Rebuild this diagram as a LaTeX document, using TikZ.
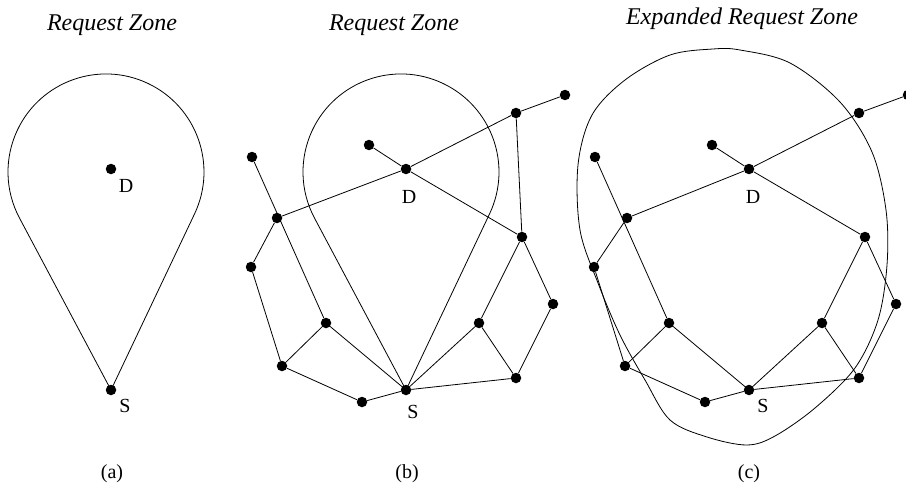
\documentclass[tikz,border=0pt]{standalone}
\usepackage{fontspec}
\setmainfont{Liberation Serif}
\usetikzlibrary{shapes,arrows,positioning}

\tikzset{
	dot/.style={shape=circle, fill=black, inner sep=0pt, minimum size=10.5pt},
	lbl/.style={inner sep=0pt, anchor=base, font=\fontsize{20}{24}\selectfont},
	ttl/.style={inner sep=0pt, anchor=base, font=\fontsize{24}{28}\selectfont\itshape},
	wire/.style={line width=0.8pt}
}

% one copy of the network: #1 = name prefix, #2 = x of node 2
\newcommand{\netcopy}[2]{
	\node[dot] (#1n1) at (252,157) {};
	\node[dot] (#1n2) at (#2,218) {};
	\node[dot] (#1n3) at (251,267) {};
	\node[dot] (#1n4) at (282,366) {};
	\node[dot] (#1n5) at (326,323) {};
	\node[dot] (#1n6) at (362,402) {};
	\node[dot] (#1S) at (406,390) {};
	\node[dot] (#1D) at (406,169) {};
	\node[dot] (#1n7) at (369,145) {};
	\node[dot] (#1n8) at (516,113) {};
	\node[dot] (#1n9) at (565,95) {};
	\node[dot] (#1n10) at (522,237) {};
	\node[dot] (#1n11) at (553,304) {};
	\node[dot] (#1n12) at (479,323) {};
	\node[dot] (#1n13) at (516,378) {};

	\path [-,wire] (#1n1) edge (#1n5);
	\path [-,wire] (#1n2) edge (#1n3);
	\path [-,wire] (#1n2) edge (#1D);
	\path [-,wire] (#1D) edge (#1n8);
	\path [-,wire] (#1n8) edge (#1n9);
	\path [-,wire] (#1n3) edge (#1n4);
	\path [-,wire] (#1n4) edge (#1n5);
	\path [-,wire] (#1n4) edge (#1n6);
	\path [-,wire] (#1n6) edge (#1S);
	\path [-,wire] (#1n5) edge (#1S);
	\path [-,wire] (#1S) edge (#1n12);
	\path [-,wire] (#1S) edge (#1n13);
	\path [-,wire] (#1n12) edge (#1n10);
	\path [-,wire] (#1n12) edge (#1n13);
	\path [-,wire] (#1n10) edge (#1n11);
	\path [-,wire] (#1n11) edge (#1n13);
	\path [-,wire] (#1n7) edge (#1D);
	\path [-,wire] (#1D) edge (#1n10);
}

\begin{document}
\begin{tikzpicture}[x=1pt, y=-1pt]
	\useasboundingbox (0,0) rectangle (906,487);

	% (a)
	\node[ttl] (ta) at (112,31) {Request Zone};
	\node[dot] (aD) at (111,169) {};
	\node[dot] (aS) at (111,390) {};
	\draw[wire] (aS.center) -- (194.5,214) arc[start angle=25.4, end angle=-208, radius=98] -- cycle;
	\node[lbl] (laD) at (126,192) {D};
	\node[lbl] (laS) at (125,412.5) {S};
	\node[lbl] (capa) at (112,478) {(a)};

	% (b)
	\node[ttl] (tb) at (394,31) {Request Zone};
	\netcopy{b}{277}
	\path [-,wire] (bn8) edge (bn10);
	\draw[wire] (bS.center) -- (489.5,214) arc[start angle=25.4, end angle=-208, radius=98] -- cycle;
	\node[lbl] (lbD) at (409,203) {D};
	\node[lbl] (lbS) at (413,418) {S};
	\node[lbl] (capb) at (407,478) {(b)};

	% (c)
	\node[ttl] (tc) at (742,25) {Expanded Request Zone};
	\begin{scope}[shift={(343,0)}]
		\netcopy{c}{284}
	\end{scope}
	\draw[wire] plot[smooth cycle, tension=0.55] coordinates {
		(740,50) (790,63) (840,102) (872,152) (886,210) (887,265) (878,320)
		(855,368) (815,408) (775,436) (747,445) (707,437) (670,420) (645,380)
		(620,335) (598,283) (580,230) (578,165) (592,115) (625,80) (670,55) (713,49)};
	\node[lbl] (lcD) at (753,203) {D};
	\node[lbl] (lcS) at (763,412.5) {S};
	\node[lbl] (capc) at (749,478) {(c)};
\end{tikzpicture}
\end{document}
